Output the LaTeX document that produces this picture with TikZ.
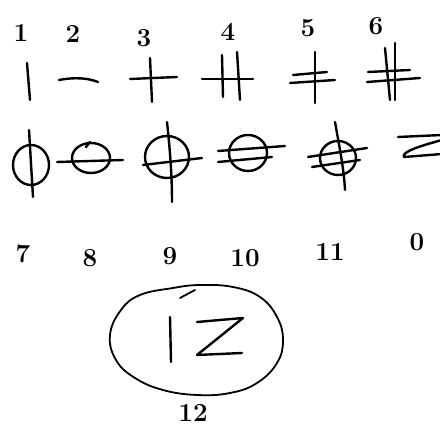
\documentclass[tikz,border=0pt]{standalone}
\begin{document}
\begin{tikzpicture}[x=1pt,y=-1pt,
  pen/.style={line width=2.4pt, line cap=round, line join=round},
  thinpen/.style={line width=1.8pt, line cap=round, line join=round},
  lab/.style={font=\fontsize{26}{26}\selectfont\bfseries, inner sep=0pt}]
\useasboundingbox (0,0) rectangle (440,427);
% labels row 1
\node[lab] (l1) at (21,33) {1};
\node[lab] (l2) at (73,34) {2};
\node[lab] (l3) at (144,38) {3};
\node[lab] (l4) at (228,32) {4};
\node[lab] (l5) at (308,28) {5};
\node[lab] (l6) at (376,26) {6};
% glyph 1
\draw[pen] (27,63) -- (30,100);
% glyph 2
\draw[pen] (59,80) .. controls (75,77) and (88,78) .. (98,82);
% glyph 3
\draw[pen] (130,79) -- (177,77);
\draw[pen] (150,58) -- (152,102);
% glyph 4
\draw[pen] (202,79) -- (253,79);
\draw[pen] (222,55) -- (223,97);
\draw[pen] (237,52) -- (240,100);
% glyph 5
\draw[pen] (315,52) -- (315,103);
\draw[pen] (293,75) -- (327,72);
\draw[pen] (290,83) -- (335,80);
% glyph 6
\draw[pen] (385,48) -- (390,100);
\draw[pen] (395,43) -- (395,100);
\draw[pen] (368,72) -- (410,70);
\draw[pen] (367,82) -- (420,78);
% row 2
% glyph 7
\draw[pen] (31,165) ellipse [x radius=18, y radius=20];
\draw[pen] (29,130) -- (33,197);
% glyph 8
\draw[pen] (91,158) ellipse [x radius=19, y radius=15];
\draw[pen] (57,162) -- (123,160);
\draw[pen] (86,147) -- (90,142);
% glyph 9
\draw[pen] (167,157) ellipse [x radius=22, y radius=21];
\draw[pen] (167,122) .. controls (170,150) and (172,175) .. (172,202);
\draw[pen] (143,165) -- (202,158);
% glyph 10
\draw[pen] (248,153) ellipse [x radius=19, y radius=18];
\draw[pen] (218,151) -- (285,146);
\draw[pen] (218,162) -- (272,157);
% glyph 11
\draw[pen] (338,158) ellipse [x radius=18, y radius=17];
\draw[pen] (335,122) .. controls (340,150) and (344,170) .. (345,190);
\draw[pen] (308,157) -- (367,148);
\draw[pen] (312,167) -- (360,160);
% glyph 0 (Z, cut off)
\draw[pen] (398,137) -- (442,135);
\draw[pen] (442,140) .. controls (420,146) and (401,152) .. (404,157) -- (442,154);
% labels row 3
\node[lab] (l7) at (23,254) {7};
\node[lab] (l8) at (90,258) {8};
\node[lab] (l9) at (170,256) {9};
\node[lab] (l10) at (245,258) {10};
\node[lab] (l11) at (330,252) {11};
\node[lab] (l0) at (417,242) {0};
% glyph 12
\draw[thinpen] plot[smooth cycle, tension=0.7] coordinates {
 (110,335) (121,310) (140,295) (173,288) (200,285) (233,287) (260,297)
 (277,317) (283,340) (277,363) (257,383) (230,393) (197,395) (163,390)
 (135,378) (116,360)};
\draw[thinpen] (180,298) -- (195,290);
\draw[pen] (170,317) -- (171,362);
\draw[pen] (197,322) -- (243,318) -- (197,355) -- (242,353);
\node[lab] (l12) at (193,413) {12};
\end{tikzpicture}
\end{document}
